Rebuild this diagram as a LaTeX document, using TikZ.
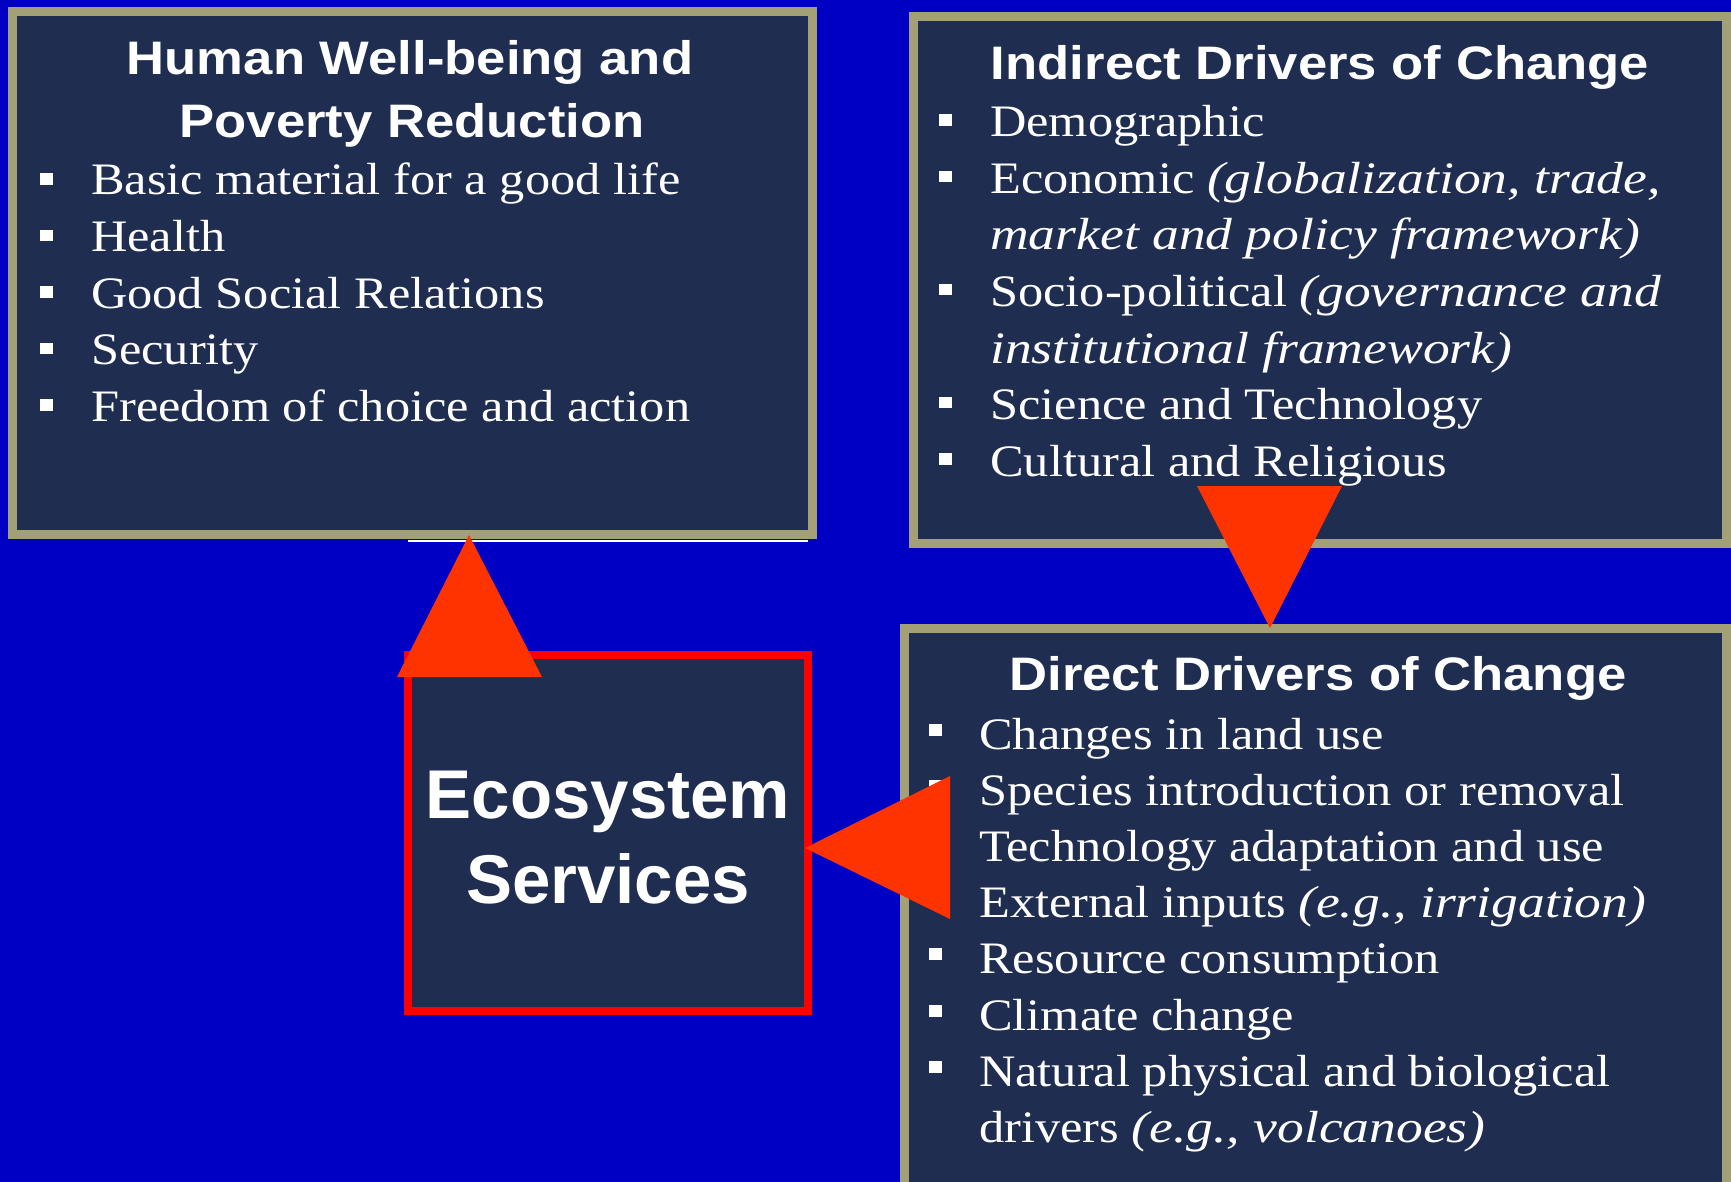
\documentclass[tikz,border=0pt]{standalone}
\usepackage{fontspec}
\setmainfont{Liberation Serif}[FakeStretch=1.12, ItalicFeatures={FakeStretch=1.19}]
\newfontfamily\headfont{Liberation Sans}[FakeStretch=1.12]
\newfontfamily\ecofont{Liberation Sans}
\definecolor{bgblue}{RGB}{0,0,196}
\definecolor{navy}{RGB}{31,45,80}
\definecolor{gold}{RGB}{163,160,120}
\definecolor{tri}{RGB}{255,51,0}
\definecolor{ecored}{RGB}{255,0,0}
\tikzset{
  panel/.style={rectangle, fill=navy, draw=gold, line width=9pt, inner sep=0pt},
  ecopanel/.style={rectangle, fill=navy, draw=ecored, line width=8pt, inner sep=0pt},
  head/.style={anchor=base, inner sep=0pt, text=white, font=\headfont\bfseries\fontsize{47}{56}\selectfont},
  item/.style={anchor=base west, inner sep=0pt, text=white, font=\fontsize{45}{54}\selectfont},
  bul/.style={rectangle, fill=white, minimum width=13pt, minimum height=11.5pt, inner sep=0pt, anchor=south west},
  eco/.style={anchor=base, inner sep=0pt, text=white, font=\ecofont\bfseries\fontsize{69}{80}\selectfont},
  arrowtri/.style={fill=tri}
}
\begin{document}
\begin{tikzpicture}[x=1pt,y=-1pt]
\useasboundingbox (0,0) rectangle (1731,1182);
\fill[bgblue] (0,0) rectangle (1731,1182);

% panels
\node[panel, minimum width=800pt, minimum height=523pt] (hw) at (412.5,273) {};
\draw[white, line width=2pt] (408,540.5) -- (808,540.5);
\node[panel, minimum width=813pt, minimum height=527pt] (ind) at (1320,280) {};
\node[panel, minimum width=822pt, minimum height=567pt] (dir) at (1315.5,912) {};
\node[ecopanel, minimum width=400pt, minimum height=356pt] (es) at (608,833) {};

% Human well-being
\node[head] (hwh1) at (410,75) {Human Well-being and};
\node[head] (hwh2) at (412,137.5) {Poverty Reduction};
\node[item] (hw1) at (91,195) {Basic material for a good life};
\node[item] (hw2) at (91,251.5) {Health};
\node[item] (hw3) at (91,308) {Good Social Relations};
\node[item] (hw4) at (91,364.5) {Security};
\node[item] (hw5) at (91,421) {Freedom of choice and action};
\foreach \yy [count=\i] in {195,251.5,308,364.5,421}
  \node[bul] (hwb\i) at (40,\yy-10) {};

% Indirect drivers
\node[head] (inh) at (1320,80) {Indirect Drivers of Change};
\node[item] (in1) at (990,137) {Demographic};
\node[item] (in2) at (990,193.5) {Economic \textit{(globalization, trade,}};
\node[item] (in3) at (990,250) {\textit{market and policy framework)}};
\node[item] (in4) at (990,306.5) {Socio-political \textit{(governance and}};
\node[item] (in5) at (990,363) {\textit{institutional framework)}};
\node[item] (in6) at (990,419.5) {Science and Technology};
\node[item] (in7) at (990,476) {Cultural and Religious};
\foreach \yy [count=\i] in {137,193.5,306.5,419.5,476}
  \node[bul] (inb\i) at (939,\yy-11) {};

% Direct drivers
\node[head] (dih) at (1318,690) {Direct Drivers of Change};
\node[item] (di1) at (979,749) {Changes in land use};
\node[item] (di2) at (979,805) {Species introduction or removal};
\node[item] (di3) at (979,861) {Technology adaptation and use};
\node[item] (di4) at (979,917) {External inputs \textit{(e.g., irrigation)}};
\node[item] (di5) at (979,973) {Resource consumption};
\node[item] (di6) at (979,1030) {Climate change};
\node[item] (di7) at (979,1086) {Natural physical and biological};
\node[item] (di8) at (979,1142) {drivers \textit{(e.g., volcanoes)}};
\foreach \yy [count=\i] in {749,805,861,917,973,1030,1086}
  \node[bul] (dib\i) at (929,\yy-13) {};

% Ecosystem services
\node[eco] (es1) at (608,818.5) {Ecosystem};
\node[eco] (es2) at (608,903) {Services};

% arrow triangles
\fill[arrowtri] (469,535) -- (397,677) -- (542,677) -- cycle;
\fill[arrowtri] (1197,486) -- (1342,486) -- (1270,628) -- cycle;
\fill[arrowtri] (805,848) -- (950,776) -- (950,919) -- cycle;
\end{tikzpicture}
\end{document}
